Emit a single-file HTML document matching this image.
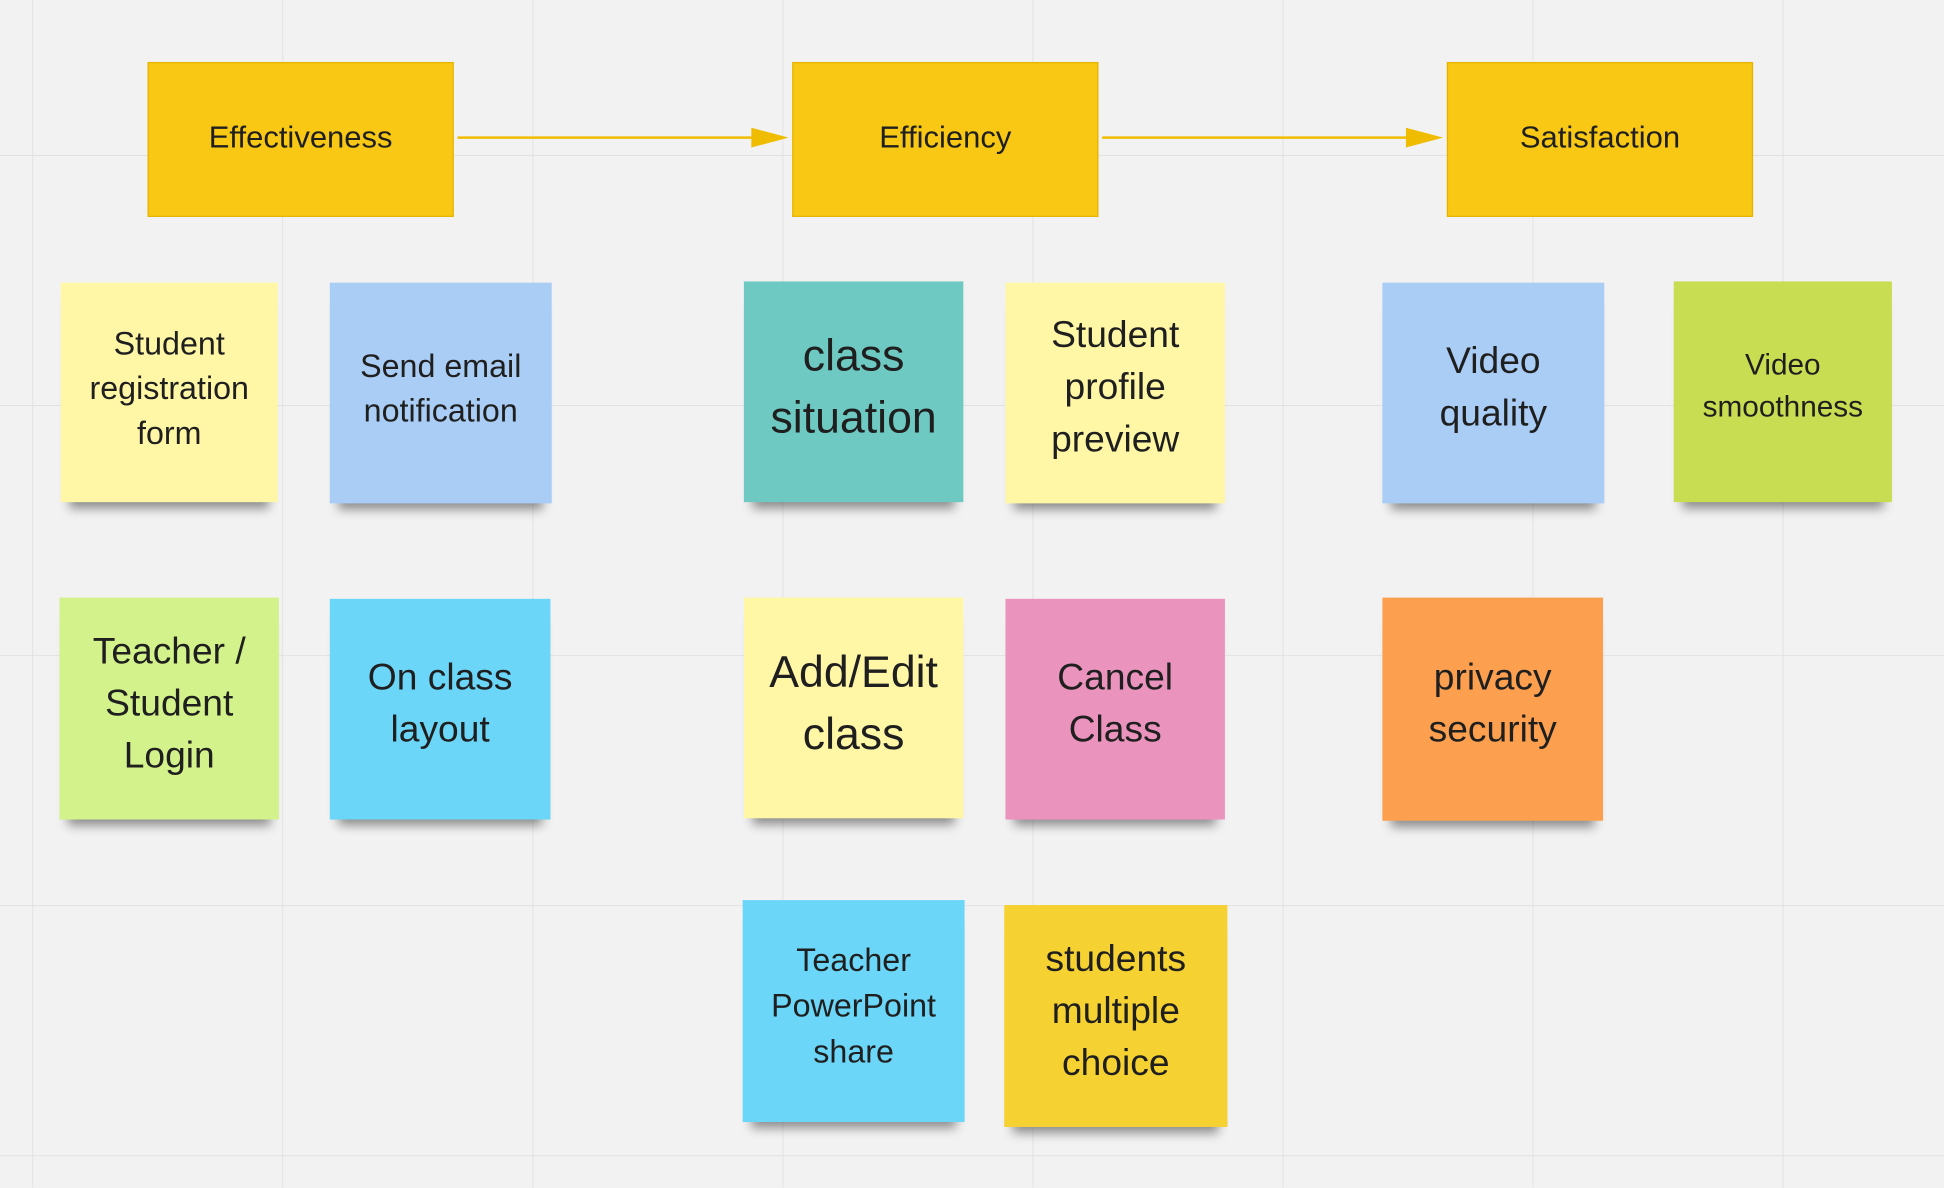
<!DOCTYPE html>
<html><head><meta charset="utf-8"><style>
html,body{margin:0;padding:0;width:1944px;height:1188px;overflow:hidden;background:#f2f2f2}
#w{position:absolute;left:0;top:0;width:1568px;height:958px;transform-origin:0 0;transform:scale(1.23980);background:#f2f2f2;
background-image:linear-gradient(to right,#e2e2e2 1px,transparent 1px),linear-gradient(to bottom,#e2e2e2 1px,transparent 1px);
background-size:201.7px 201.7px;background-position:26px 125px;font-family:"Liberation Sans","DejaVu Sans",sans-serif;color:#1f1f1f}
.h{position:absolute;top:50px;width:245px;height:121px;background:#f8c815;border:1px solid #e6b200;display:flex;align-items:center;justify-content:center;font-size:25px;padding-bottom:2px;box-sizing:content-box}
.s{position:absolute;display:flex;align-items:center;justify-content:center;text-align:center;box-shadow:0 12px 8px -7px rgba(0,0,0,0.42);box-sizing:border-box;padding-bottom:8px}
</style></head><body><div id="w">
<div class="h" style="left:119px">Effectiveness</div>
<div class="h" style="left:639px">Efficiency</div>
<div class="h" style="left:1167px">Satisfaction</div>
<svg width="1568" height="958" style="position:absolute;left:0;top:0">
<g stroke="#f0bc00" stroke-width="2" fill="#f0bc00">
<line x1="369" y1="111" x2="610" y2="111"/><polygon points="606,103 636,111 606,119" stroke="none"/>
<line x1="889" y1="111" x2="1138" y2="111"/><polygon points="1134,103 1164,111 1134,119" stroke="none"/>
</g></svg>
<div class="s" style="left:49px;top:228px;width:175px;height:177px;background:#fff6a6;font-size:26px;line-height:36px">Student<br>registration<br>form</div>
<div class="s" style="left:266px;top:228px;width:179px;height:178px;background:#a9cdf5;font-size:26px;line-height:36px">Send email<br>notification</div>
<div class="s" style="left:600px;top:227px;width:177px;height:178px;background:#6dc9c1;font-size:36px;line-height:50px">class<br>situation</div>
<div class="s" style="left:811px;top:228px;width:177px;height:178px;background:#fff6a6;font-size:30px;line-height:42px">Student<br>profile<br>preview</div>
<div class="s" style="left:1115px;top:228px;width:179px;height:178px;background:#a9cdf5;font-size:30px;line-height:42px">Video<br>quality</div>
<div class="s" style="left:1350px;top:227px;width:176px;height:178px;background:#c9dd52;font-size:24px;line-height:34px">Video<br>smoothness</div>
<div class="s" style="left:48px;top:482px;width:177px;height:179px;background:#d3f28b;font-size:30px;line-height:42px">Teacher /<br>Student<br>Login</div>
<div class="s" style="left:266px;top:483px;width:178px;height:178px;background:#6bd6f8;font-size:30px;line-height:42px">On class<br>layout</div>
<div class="s" style="left:600px;top:482px;width:177px;height:178px;background:#fff6a6;font-size:36px;line-height:50px">Add/Edit<br>class</div>
<div class="s" style="left:811px;top:483px;width:177px;height:178px;background:#ea94bd;font-size:30px;line-height:42px">Cancel<br>Class</div>
<div class="s" style="left:1115px;top:482px;width:178px;height:180px;background:#fca050;font-size:30px;line-height:42px">privacy<br>security</div>
<div class="s" style="left:599px;top:726px;width:179px;height:179px;background:#6bd6f8;font-size:26px;line-height:37px">Teacher<br>PowerPoint<br>share</div>
<div class="s" style="left:810px;top:730px;width:180px;height:179px;background:#f5d132;font-size:30px;line-height:42px">students<br>multiple<br>choice</div>
</div></body></html>
